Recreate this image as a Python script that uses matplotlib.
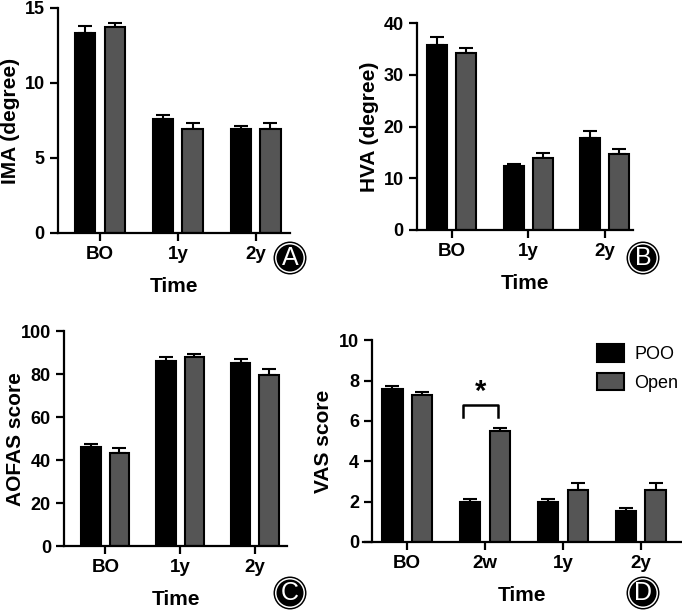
import numpy as np
import matplotlib
matplotlib.use("Agg")
import matplotlib.pyplot as plt
from matplotlib.patches import Circle, Patch

plt.rcParams['font.family'] = ['Liberation Sans', 'DejaVu Sans']
plt.rcParams['font.weight'] = 'bold'

# data
times_3 = ['BO', '1y', '2y']
times_4 = ['BO', '2w', '1y', '2y']

ima_poo = [13.3, 7.6, 6.9]
ima_poo_err = [0.5, 0.25, 0.25]
ima_open = [13.7, 6.9, 6.95]
ima_open_err = [0.3, 0.4, 0.4]

hva_poo = [35.8, 12.4, 17.8]
hva_poo_err = [1.5, 0.4, 1.4]
hva_open = [34.2, 14.0, 14.7]
hva_open_err = [1.1, 0.9, 1.0]

aofas_poo = [46.0, 86.0, 85.0]
aofas_poo_err = [1.5, 1.8, 2.0]
aofas_open = [43.5, 88.0, 79.5]
aofas_open_err = [2.0, 1.5, 3.0]

vas_poo = [7.6, 2.0, 2.0, 1.55]
vas_poo_err = [0.15, 0.15, 0.15, 0.15]
vas_open = [7.3, 5.5, 2.55, 2.55]
vas_open_err = [0.15, 0.15, 0.35, 0.35]

BLACK = '#000000'
GREY = '#555555'
W = 0.26
OFF = 0.19

fig = plt.figure(figsize=(6.82, 6.13), dpi=100)


def bars(ax, cats, poo, poo_err, opn, opn_err, ymax, yticks, ylabel, xlim, labx):
    x = np.arange(len(cats))
    for xs, vals, errs, col in [(x - OFF, poo, poo_err, BLACK), (x + OFF, opn, opn_err, GREY)]:
        ax.bar(xs, vals, W, color=col, edgecolor='black', linewidth=1.5, zorder=2)
        ax.errorbar(xs, vals, yerr=[np.zeros(len(errs)), errs], fmt='none',
                    ecolor='black', elinewidth=1.5, capsize=5, capthick=1.5, zorder=1)
    ax.set_xlim(*xlim)
    ax.set_ylim(0, ymax)
    ax.set_yticks(yticks)
    ax.set_xticks(x)
    ax.set_xticklabels(cats)
    for s in ['top', 'right']:
        ax.spines[s].set_visible(False)
    for s in ['left', 'bottom']:
        ax.spines[s].set_linewidth(1.6)
    ax.tick_params(axis='both', width=1.6, length=6, labelsize=13)
    ax.tick_params(axis='x', labelsize=13.5)
    ax.set_ylabel(ylabel, fontsize=15, fontweight='bold', va='center')
    ax.yaxis.set_label_coords(labx, 0.5)
    ax.set_xlabel('Time', fontsize=15, fontweight='bold', labelpad=10)


axA = fig.add_axes([0.085, 0.620, 0.340, 0.367])
bars(axA, times_3, ima_poo, ima_poo_err, ima_open, ima_open_err, 15, [0, 5, 10, 15],
     'IMA (degree)', (-0.54, 2.44), -0.205)

axB = fig.add_axes([0.611, 0.625, 0.317, 0.337])
bars(axB, times_3, hva_poo, hva_poo_err, hva_open, hva_open_err, 40, [0, 10, 20, 30, 40],
     'HVA (degree)', (-0.46, 2.37), -0.22)

axC = fig.add_axes([0.094, 0.109, 0.327, 0.351])
bars(axC, times_3, aofas_poo, aofas_poo_err, aofas_open, aofas_open_err, 100,
     [0, 20, 40, 60, 80, 100], 'AOFAS score', (-0.55, 2.43), -0.22)

axD = fig.add_axes([0.532, 0.116, 0.468, 0.329])
bars(axD, times_4, vas_poo, vas_poo_err, vas_open, vas_open_err, 10, [0, 2, 4, 6, 8, 10],
     'VAS score', (-0.57, 3.53), -0.122)
axD.spines['left'].set_position(('axes', 0.03))

# significance bracket at 2w
axD.plot([0.72, 0.72, 1.17, 1.17], [6.2, 6.8, 6.8, 6.2], color='black', lw=1.8)
axD.text(0.945, 6.75, '*', ha='center', va='bottom', fontsize=21, fontweight='bold')

leg = axD.legend(handles=[Patch(fc=BLACK, ec='black', lw=1.5, label='POO'),
                          Patch(fc=GREY, ec='black', lw=1.5, label='Open')],
                 loc='upper right', bbox_to_anchor=(1.04, 1.06), frameon=False,
                 prop={'weight': 'normal', 'size': 13}, handlelength=1.5,
                 handleheight=1.1, labelspacing=0.55, handletextpad=0.6)

# circled panel letters
for letter, (px, py) in zip('ABCD', [(290, 258), (643, 258), (290, 593), (643, 593)]):
    cx, cy = px / 100, (613 - py) / 100
    for r, fc in [(0.165, 'black'), (0.15, 'white'), (0.135, 'black')]:
        fig.add_artist(Circle((cx, cy), r, transform=fig.dpi_scale_trans, fc=fc, ec='none'))
    fig.text(px / 682, (613 - py) / 613, letter, color='white', ha='center', va='center',
             fontsize=18, fontweight='normal')

fig.savefig('out.png', dpi=100)
